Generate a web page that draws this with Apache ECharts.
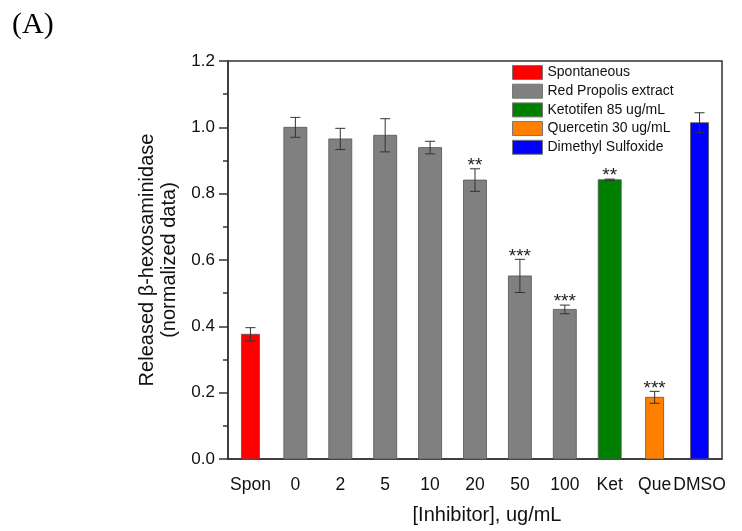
<!DOCTYPE html>
<html>
<head>
<meta charset="utf-8">
<script src="https://cdn.jsdelivr.net/npm/echarts@6/dist/echarts.min.js"></script>
<style>html,body{margin:0;padding:0;background:#fff;}#c{width:742px;height:531px;}</style>
</head>
<body>
<div id="c"></div>
<script>
// ---- data ----
const categories = ['Spon', '0', '2', '5', '10', '20', '50', '100', 'Ket', 'Que', 'DMSO'];
const means  = [0.376, 1.000, 0.965, 0.976, 0.939, 0.841, 0.552, 0.451, 0.842, 0.186, 1.014];
const errors = [0.020, 0.030, 0.032, 0.050, 0.019, 0.034, 0.050, 0.013, 0.002, 0.018, 0.030];
const stars  = ['', '', '', '', '', '**', '***', '***', '**', '***', ''];
const groupNames = ['Spontaneous', 'Red Propolis extract', 'Ketotifen 85 ug/mL', 'Quercetin 30 ug/mL', 'Dimethyl Sulfoxide'];
const groupOfCategory = [0, 1, 1, 1, 1, 1, 1, 1, 2, 3, 4];
const yTicks = [0, 0.2, 0.4, 0.6, 0.8, 1.0, 1.2];

// ---- styles ----
const groupColors = ['#ff0000', '#808080', '#008000', '#ff8000', '#0000ff'];
const groupBarWidth = [18, 23, 23, 18, 18];
const FONT = '"Liberation Sans", Arial, sans-serif';

const chart = echarts.init(document.getElementById('c'));

const barSeries = groupNames.map((name, g) => ({
  type: 'custom',
  name: name,
  itemStyle: { color: groupColors[g] },
  encode: { x: 0, y: 1 },
  data: categories.map((c, i) => i).filter(i => groupOfCategory[i] === g).map(i => [i, means[i]]),
  renderItem: function (params, api) {
    const i = api.value(0), v = api.value(1);
    const p0 = api.coord([i, 0]);
    const p1 = api.coord([i, v]);
    const w = groupBarWidth[g];
    return {
      type: 'rect',
      shape: { x: p0[0] - w / 2, y: p1[1], width: w, height: p0[1] - p1[1] },
      style: { fill: groupColors[g], stroke: '#555', lineWidth: 0.8 }
    };
  },
  z: 2
}));

const errSeries = {
  type: 'custom',
  name: 'err',
  encode: { x: 0, y: 1 },
  data: categories.map((c, i) => [i, means[i], errors[i]]),
  renderItem: function (params, api) {
    const i = api.value(0), v = api.value(1), e = api.value(2);
    const star = stars[i];
    const top = api.coord([i, v + e]);
    const bot = api.coord([i, v - e]);
    const cap = 5;
    const lineStyle = { stroke: '#333', lineWidth: 1 };
    const children = [
      { type: 'line', shape: { x1: top[0], y1: top[1], x2: bot[0], y2: bot[1] }, style: lineStyle },
      { type: 'line', shape: { x1: top[0] - cap, y1: top[1], x2: top[0] + cap, y2: top[1] }, style: lineStyle },
      { type: 'line', shape: { x1: bot[0] - cap, y1: bot[1], x2: bot[0] + cap, y2: bot[1] }, style: lineStyle }
    ];
    if (star) {
      children.push({
        type: 'text',
        style: { text: star, x: top[0], y: top[1] - 3, align: 'center', verticalAlign: 'middle',
                 font: '19px ' + FONT, fill: '#222' }
      });
    }
    return { type: 'group', children: children };
  },
  z: 5
};

chart.setOption({
  animation: false,
  backgroundColor: '#fff',
  graphic: [{
    type: 'text', left: 12, top: 10,
    style: { text: '(A)', font: '30px "Liberation Serif", "Times New Roman", serif', fill: '#000' }
  }],
  grid: { left: 228, right: 20, top: 61, bottom: 72, show: true, borderColor: '#333', borderWidth: 1.5, backgroundColor: 'transparent' },
  legend: {
    data: groupNames,
    orient: 'vertical',
    left: 512, top: 65,
    padding: 0,
    itemWidth: 30, itemHeight: 14, itemGap: 3.7,
    icon: 'rect',
    itemStyle: { borderColor: '#777', borderWidth: 1 },
    textStyle: { fontFamily: FONT, fontSize: 14, color: '#111', lineHeight: 14 }
  },
  xAxis: {
    type: 'category',
    data: categories,
    name: '[Inhibitor], ug/mL',
    nameLocation: 'middle',
    nameGap: 46,
    nameTextStyle: { fontFamily: FONT, fontSize: 20, color: '#111', padding: [0, 0, 0, 24] },
    axisLine: { lineStyle: { color: '#333', width: 1.5 } },
    axisTick: { alignWithLabel: true, length: 7, lineStyle: { color: '#333', width: 1.5 } },
    axisLabel: { fontFamily: FONT, fontSize: 17.5, color: '#111', margin: 17, interval: 0 },
    splitLine: { show: false }
  },
  yAxis: {
    type: 'value',
    min: 0, max: 1.2, interval: 0.2,
    name: 'Released β-hexosaminidase\n(normalized data)',
    nameLocation: 'middle',
    nameGap: 43,
    nameTextStyle: { fontFamily: FONT, fontSize: 20, color: '#111', lineHeight: 22, align: 'center' },
    axisLine: { show: true, lineStyle: { color: '#333', width: 1.5 } },
    axisTick: { show: true, length: 9, lineStyle: { color: '#333', width: 1.5 } },
    minorTick: { show: true, splitNumber: 2, length: 5, lineStyle: { color: '#333', width: 1.5 } },
    axisLabel: { fontFamily: FONT, fontSize: 17, color: '#111', margin: 13,
                 formatter: v => yTicks.indexOf(Math.round(v * 10) / 10) >= 0 ? v.toFixed(1) : '' },
    splitLine: { show: false }
  },
  series: barSeries.concat([errSeries])
});
</script>
</body>
</html>
